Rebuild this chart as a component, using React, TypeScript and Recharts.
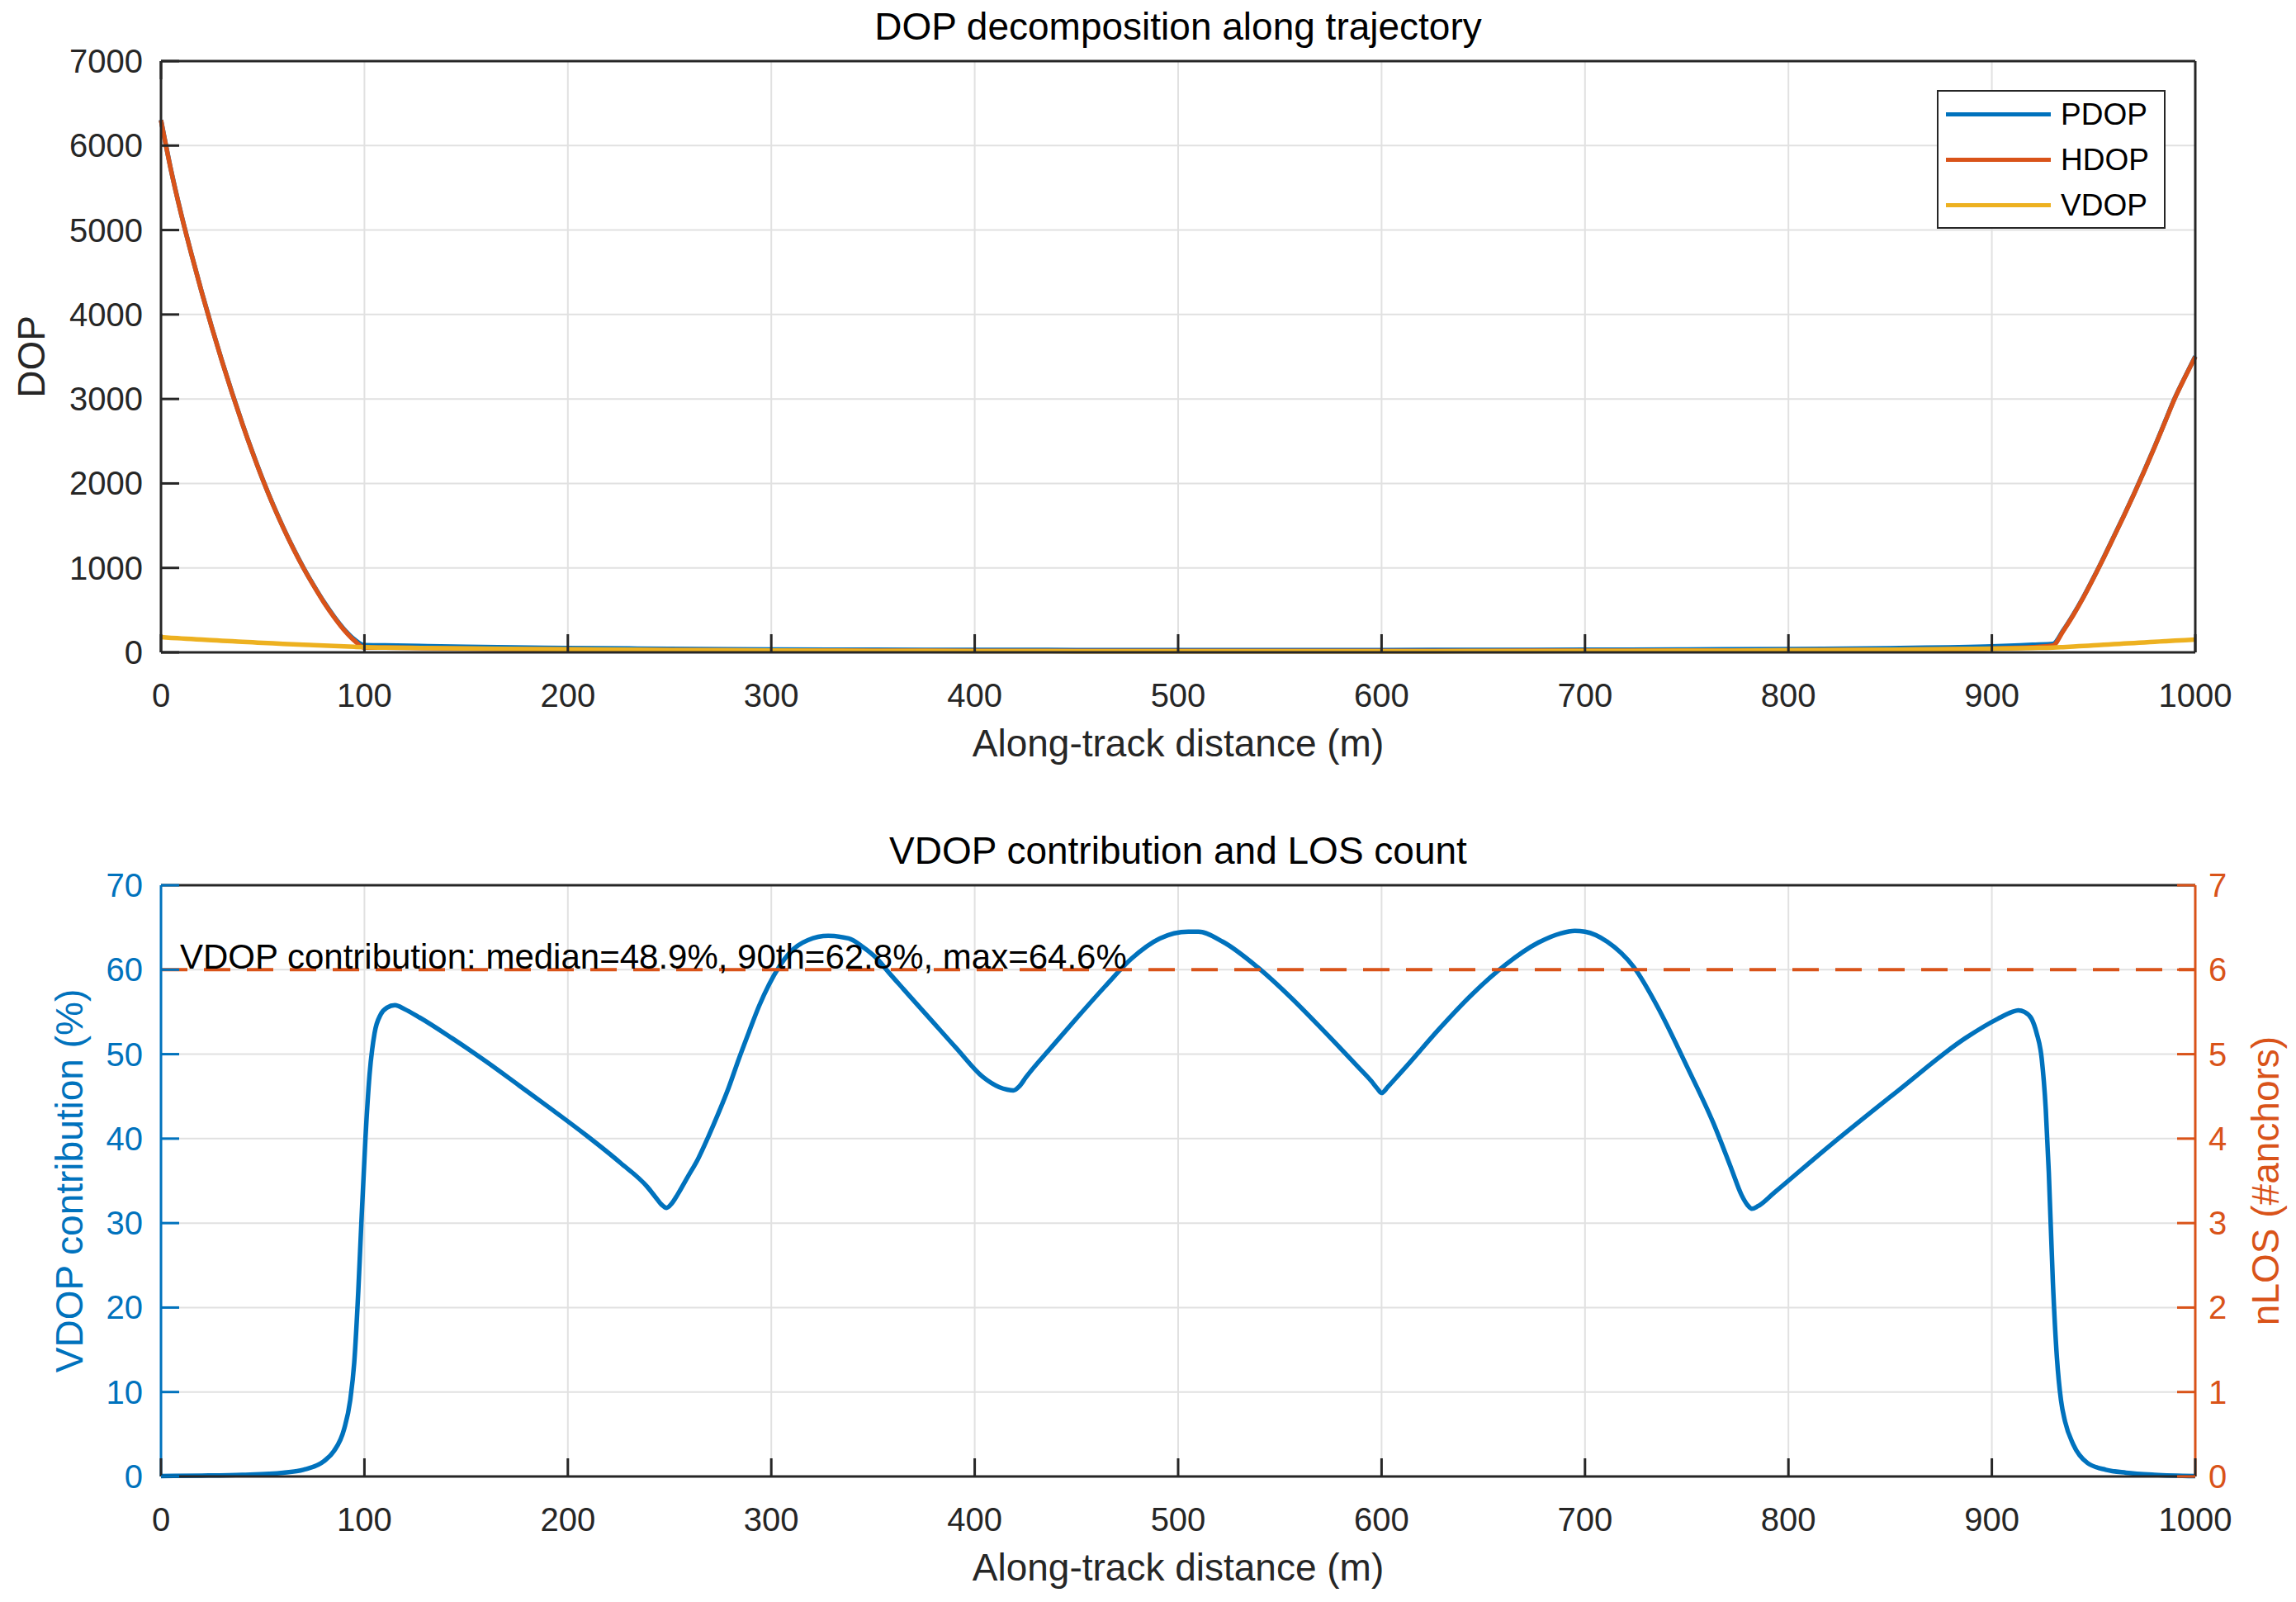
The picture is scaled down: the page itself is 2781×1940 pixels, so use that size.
import React from "react";
import { LineChart, Line, XAxis, YAxis, CartesianGrid, Legend } from "recharts";

const FONT = '"Liberation Sans", Arial, Helvetica, sans-serif';
const AXIS = "#262626";
const BLUE = "#0072BD";
const ORANGE = "#D95319";
const YELLOW = "#EDB120";
const GRID = "#e1e1e1";
const TICK = 22;

const distanceTicks = [0, 100, 200, 300, 400, 500, 600, 700, 800, 900, 1000];
const dopTicks = [0, 1000, 2000, 3000, 4000, 5000, 6000, 7000];
const contributionTicks = [0, 10, 20, 30, 40, 50, 60, 70];
const losTicks = [0, 1, 2, 3, 4, 5, 6, 7];
const dopSeries = ["PDOP", "HDOP", "VDOP"];

// top panel: DOP along the track
const dopDistance = [
  0, 5, 10, 15, 20, 25, 30, 35, 40, 45, 50, 55, 60, 65, 70, 75, 80, 85, 90, 95, 100,
  110, 150, 200, 250, 300, 350, 400, 450, 500, 550, 600, 650, 700, 750, 800, 850, 900,
  920, 930, 935, 940, 945, 950, 955, 960, 965, 970, 975, 980, 985, 990, 995, 1000,
];
const pdop = [
  6303, 5703, 5183, 4713, 4268, 3848, 3448, 3068, 2708, 2368, 2048, 1753, 1483, 1234, 1004, 795, 600, 427, 274, 154, 85,
  82, 66, 52, 42, 35, 31, 29, 28, 27, 27, 28, 29, 31, 34, 40, 50, 70,
  90, 100, 258, 446, 655, 884, 1124, 1374, 1624, 1884, 2154, 2434, 2724, 3014, 3264, 3504,
];
const hdop = [
  6300, 5700, 5180, 4710, 4265, 3845, 3445, 3065, 2705, 2365, 2045, 1750, 1480, 1230, 1000, 790, 595, 420, 265, 140, 55,
  55, 45, 35, 28, 23, 20, 18, 17, 16, 16, 17, 18, 19, 21, 25, 32, 45,
  60, 80, 250, 440, 650, 880, 1120, 1370, 1620, 1880, 2150, 2430, 2720, 3010, 3260, 3500,
];
const vdop = [
  180, 172, 165, 158, 151, 144, 138, 131, 125, 119, 113, 107, 101, 96, 90, 85, 80, 75, 70, 65, 60,
  56, 46, 36, 28, 22, 18, 15, 13, 12, 12, 13, 14, 16, 19, 24, 32, 45,
  52, 56, 62, 69, 76, 83, 90, 97, 104, 111, 118, 125, 132, 139, 145, 152,
];

// bottom panel: VDOP share and LOS anchors
const contributionDistance = [
  0, 20, 40, 60, 70, 80, 85, 90, 93, 95,
  97, 98.5, 100.5, 102.5, 105, 108, 111, 115, 120, 126,
  143, 160, 176, 193, 209, 226, 239, 243, 246, 248.5,
  251, 254, 259, 264, 269, 274, 279, 284, 289, 294,
  299, 304, 309, 318, 328, 338, 345, 352, 358, 365,
  378, 391, 404, 412, 416, 419, 422, 425, 438, 451,
  464, 477, 491, 505, 510, 522, 539, 555, 571, 588,
  595, 598, 600, 603, 606, 612, 628, 645, 661, 677,
  688, 695, 700, 711, 724, 737, 750, 763, 772, 777,
  780, 782, 785, 793, 820, 854, 887, 903, 910, 913,
  916, 919.5, 922, 924.5, 926.5, 928, 930, 932, 934, 936,
  940, 947, 956, 966, 980, 1000,
];
const vdopContribution = [
  0.05, 0.1, 0.2, 0.45, 0.8, 1.8, 3.0, 5.6, 9, 13.5,
  22, 30, 40, 47.5, 52.5, 54.7, 55.5, 55.8, 55.3, 54.5,
  51.9, 49.1, 46.3, 43.3, 40.4, 37.1, 34.3, 33.1, 32.2, 31.8,
  32.3, 33.4, 35.5, 37.6, 40.2, 43, 46, 49.4, 52.6, 55.7,
  58.3, 60.4, 62, 63.5, 64.0, 63.7, 62.7, 61.3, 59.6, 57.7,
  54.2, 50.7, 47.3, 46.1, 45.8, 45.7, 46.2, 47.2, 50.9, 54.5,
  58, 61.3, 63.7, 64.5, 64.5, 63.3, 60.3, 56.8, 52.9, 48.6,
  46.8, 45.9, 45.4, 46.1, 46.9, 48.5, 52.9, 57.2, 60.6, 63.2,
  64.3, 64.6, 64.5, 63.3, 60.3, 55.0, 48.6, 41.9, 36.4, 33.3,
  32.1, 31.7, 32.0, 33.6, 39.1, 45.7, 51.9, 54.2, 55.0, 55.2,
  55.0, 54.2, 52.5, 49.5, 43.5, 36, 23, 14, 9, 6.5,
  3.8, 1.6, 0.8, 0.45, 0.2, 0.05,
];
const losDistance = [0, 1000];
const nLos = [6, 6];

const dopData = dopDistance.map((d, i) => ({ d, PDOP: pdop[i], HDOP: hdop[i], VDOP: vdop[i] }));
const contributionData = contributionDistance.map((d, i) => ({ d, share: vdopContribution[i] }));
const losData = losDistance.map((d, i) => ({ d, nlos: nLos[i] }));

const bottomTick = (color: string) => (p: any) => (
  <g>
    <line x1={p.x} y1={p.y} x2={p.x} y2={p.y - TICK} stroke={AXIS} strokeWidth={3} />
    <text x={p.x} y={p.y + 66} textAnchor="middle" fill={color} fontSize={40} fontFamily={FONT}>
      {p.payload.value}
    </text>
  </g>
);

const topTick = (p: any) => (
  <line x1={p.x} y1={p.y} x2={p.x} y2={p.y + TICK} stroke={AXIS} strokeWidth={3} />
);

const leftTick = (color: string) => (p: any) => (
  <g>
    <line x1={p.x} y1={p.y} x2={p.x + TICK} y2={p.y} stroke={color} strokeWidth={3} />
    <text x={p.x - 22} y={p.y + 14} textAnchor="end" fill={color} fontSize={40} fontFamily={FONT}>
      {p.payload.value}
    </text>
  </g>
);

const rightTick = (color: string, showLabel: boolean) => (p: any) => (
  <g>
    <line x1={p.x} y1={p.y} x2={p.x - TICK} y2={p.y} stroke={color} strokeWidth={3} />
    {showLabel && (
      <text x={p.x + 16} y={p.y + 14} textAnchor="start" fill={color} fontSize={40} fontFamily={FONT}>
        {p.payload.value}
      </text>
    )}
  </g>
);

function XLabel(props: any) {
  const { x, y, width } = props.viewBox;
  return (
    <text x={x + width / 2} y={y + 126} textAnchor="middle" fill={AXIS} fontSize={46} fontFamily={FONT}>
      {props.text}
    </text>
  );
}

function YLabel(props: any) {
  const cy = props.viewBox.y + props.viewBox.height / 2;
  const bx = props.baseX;
  return (
    <text
      x={bx}
      y={cy}
      transform={`rotate(-90 ${bx} ${cy})`}
      textAnchor="middle"
      fill={props.color}
      fontSize={46}
      fontFamily={FONT}
    >
      {props.text}
    </text>
  );
}

function PanelTitle(props: any) {
  const { x, y, width, height } = props.viewBox;
  const top = y + height;
  return (
    <g>
      <text x={x + width / 2} y={top - 26} textAnchor="middle" fill="#000" fontSize={46} fontFamily={FONT}>
        {props.title}
      </text>
      {props.note && (
        <text x={x + 23} y={top + 101} fill="#000" fontSize={42} fontFamily={FONT}>
          {props.note}
        </text>
      )}
    </g>
  );
}

function DopLegend(props: any) {
  const items = [...(props.payload || [])].sort(
    (a: any, b: any) => dopSeries.indexOf(a.value) - dopSeries.indexOf(b.value)
  );
  return (
    <div
      style={{
        width: 277,
        height: 168,
        boxSizing: "border-box",
        border: `2px solid ${AXIS}`,
        background: "#fff",
        fontFamily: FONT,
        fontSize: 37,
        color: "#000",
      }}
    >
      {items.map((it: any) => (
        <div key={it.value} style={{ display: "flex", alignItems: "center", height: 55 }}>
          <span style={{ display: "inline-block", width: 127, height: 5, background: it.color, marginLeft: 9, marginRight: 12 }} />
          <span>{it.value}</span>
        </div>
      ))}
    </div>
  );
}

export default function App() {
  return (
    <div style={{ position: "absolute", left: 0, top: 0, width: 2781, height: 1940, background: "#fff" }}>
      <div style={{ position: "absolute", left: 0, top: 0 }}>
        <LineChart width={2781} height={960} data={dopData} margin={{ top: 73, right: 121, bottom: 0, left: 0 }}>
          <CartesianGrid stroke={GRID} strokeWidth={2} />
          <XAxis
            dataKey="d"
            type="number"
            domain={[0, 1000]}
            ticks={distanceTicks}
            interval={0}
            height={170}
            tickSize={0}
            tickMargin={0}
            tickLine={false}
            axisLine={{ stroke: AXIS, strokeWidth: 3 }}
            tick={bottomTick(AXIS)}
            label={<XLabel text="Along-track distance (m)" />}
          />
          <XAxis
            xAxisId="top"
            orientation="top"
            type="number"
            domain={[0, 1000]}
            ticks={distanceTicks}
            interval={0}
            height={1}
            tickSize={0}
            tickMargin={0}
            tickLine={false}
            axisLine={{ stroke: AXIS, strokeWidth: 3 }}
            tick={topTick}
            label={<PanelTitle title="DOP decomposition along trajectory" />}
          />
          <YAxis
            type="number"
            domain={[0, 7000]}
            ticks={dopTicks}
            interval={0}
            width={195}
            tickSize={0}
            tickMargin={0}
            tickLine={false}
            axisLine={{ stroke: AXIS, strokeWidth: 3 }}
            tick={leftTick(AXIS)}
            label={<YLabel text="DOP" color={AXIS} baseX={54} />}
          />
          <YAxis
            yAxisId="right"
            orientation="right"
            type="number"
            domain={[0, 7000]}
            ticks={dopTicks}
            interval={0}
            width={1}
            tickSize={0}
            tickMargin={0}
            tickLine={false}
            axisLine={{ stroke: AXIS, strokeWidth: 3 }}
            tick={rightTick(AXIS, false)}
          />
          <Legend
            layout="vertical"
            align="center"
            verticalAlign="middle"
            content={<DopLegend />}
            wrapperStyle={{ left: 2346, top: 109, width: 277, height: 168 }}
          />
          <Line type="monotone" dataKey="PDOP" name="PDOP" stroke={BLUE} strokeWidth={5.5} dot={false} isAnimationActive={false} />
          <Line type="monotone" dataKey="HDOP" name="HDOP" stroke={ORANGE} strokeWidth={5.5} dot={false} isAnimationActive={false} />
          <Line type="monotone" dataKey="VDOP" name="VDOP" stroke={YELLOW} strokeWidth={5.5} dot={false} isAnimationActive={false} />
        </LineChart>
      </div>
      <div style={{ position: "absolute", left: 0, top: 960 }}>
        <LineChart width={2781} height={980} margin={{ top: 111, right: 0, bottom: 0, left: 0 }}>
          <CartesianGrid stroke={GRID} strokeWidth={2} />
          <XAxis
            dataKey="d"
            type="number"
            domain={[0, 1000]}
            ticks={distanceTicks}
            interval={0}
            height={152}
            tickSize={0}
            tickMargin={0}
            tickLine={false}
            axisLine={{ stroke: AXIS, strokeWidth: 3 }}
            tick={bottomTick(AXIS)}
            label={<XLabel text="Along-track distance (m)" />}
          />
          <XAxis
            xAxisId="top"
            orientation="top"
            type="number"
            domain={[0, 1000]}
            ticks={distanceTicks}
            interval={0}
            height={1}
            tickSize={0}
            tickMargin={0}
            tickLine={false}
            axisLine={{ stroke: AXIS, strokeWidth: 3 }}
            tick={topTick}
            label={
              <PanelTitle
                title="VDOP contribution and LOS count"
                note="VDOP contribution: median=48.9%, 90th=62.8%, max=64.6%"
              />
            }
          />
          <YAxis
            type="number"
            domain={[0, 70]}
            ticks={contributionTicks}
            interval={0}
            width={195}
            tickSize={0}
            tickMargin={0}
            tickLine={false}
            axisLine={{ stroke: BLUE, strokeWidth: 3 }}
            tick={leftTick(BLUE)}
            label={<YLabel text="VDOP contribution (%)" color={BLUE} baseX={100} />}
          />
          <YAxis
            yAxisId="right"
            orientation="right"
            type="number"
            domain={[0, 7]}
            ticks={losTicks}
            interval={0}
            width={122}
            tickSize={0}
            tickMargin={0}
            tickLine={false}
            axisLine={{ stroke: ORANGE, strokeWidth: 3 }}
            tick={rightTick(ORANGE, true)}
            label={<YLabel text="nLOS (#anchors)" color={ORANGE} baseX={2760} />}
          />
          <Line
            data={contributionData}
            type="monotone"
            dataKey="share"
            stroke={BLUE}
            strokeWidth={5.5}
            dot={false}
            isAnimationActive={false}
          />
          <Line
            data={losData}
            yAxisId="right"
            type="linear"
            dataKey="nlos"
            stroke={ORANGE}
            strokeWidth={4}
            strokeDasharray="32 20"
            dot={false}
            isAnimationActive={false}
          />
        </LineChart>
      </div>
    </div>
  );
}
